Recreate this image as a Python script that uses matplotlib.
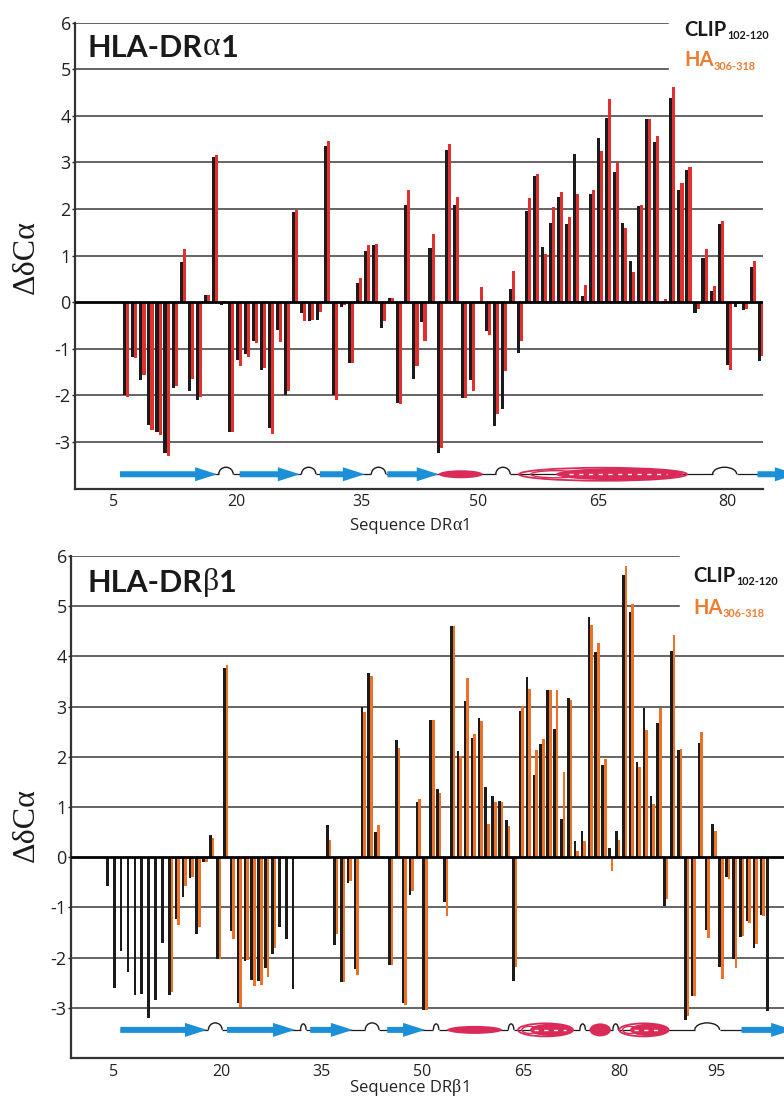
import numpy as np
import matplotlib
matplotlib.use("Agg")
import matplotlib.pyplot as plt
from matplotlib.patches import FancyArrow, Ellipse, Arc

plt.rcParams['axes.unicode_minus'] = False
nan = np.nan

# ---------------- data ----------------
alpha_residues = list(range(6, 86))
alpha_clip = [-1.99, -1.17, -1.67, -2.64, -2.79, -3.24, -1.84, 0.86, -1.91, -2.09,
              0.15, 3.11, -0.05, -2.79, -1.23, -1.10, -0.84, -1.46, -2.69, -0.59,
              -1.98, 1.94, -0.24, -0.41, -0.39, 3.36, -1.99, -0.10, -1.30, 0.41,
              1.11, 1.24, -0.55, 0.09, -2.16, 2.09, -1.64, -0.43, 1.16, -3.23,
              3.26, 2.09, -2.06, -1.66, 0.00, -0.61, -2.66, -2.30, 0.29, -1.09,
              1.96, 2.70, 1.19, 1.70, 2.27, 1.68, 3.19, 0.14, 2.32, 3.52,
              3.96, 2.79, 1.70, 0.88, 2.06, 3.94, 3.45, 0.00, 4.38, 2.41,
              2.83, -0.23, 0.96, 0.24, 1.68, -1.35, -0.10, -0.17, 0.75, -1.26]
alpha_ha = [-2.03, -1.20, -1.55, -2.74, -2.85, -3.29, -1.80, 1.15, -1.64, -2.03,
            0.16, 3.16, 0.03, -2.79, -1.37, -1.17, -0.87, -1.41, -2.82, -0.86,
            -1.91, 1.99, -0.41, -0.39, -0.21, 3.47, -2.09, -0.05, -1.30, 0.52,
            1.24, 1.26, -0.41, 0.09, -2.18, 2.41, -1.37, -0.84, 1.47, -3.12,
            3.40, 2.27, -2.05, -1.91, 0.32, -0.70, -2.39, -1.48, 0.68, -0.84,
            2.23, 2.76, 1.04, 2.04, 2.36, 1.83, 2.33, 0.37, 2.41, 3.25,
            4.37, 3.01, 1.60, 0.66, 2.09, 3.94, 3.56, 0.08, 4.63, 2.55,
            2.90, -0.14, 1.15, 0.36, 1.74, -1.46, -0.03, -0.14, 0.88, -1.16]
alpha_tick_labels = ['5', '20', '35', '50', '65', '80']
alpha_tick_pos = [4.4, 19.7, 35.3, 49.8, 64.8, 80.8]

beta_residues = list(range(4, 101))
beta_clip = [-0.58, -2.61, -1.86, -2.29, -2.74, -2.72, -3.21, -2.85, -1.70, -2.75,
             -1.24, -0.80, -0.41, -1.52, -0.09, 0.45, -2.02, 3.76, -1.47, -2.91,
             -2.06, -2.45, -2.47, -2.20, -1.93, -1.40, -1.62, -2.62, nan, nan,
             nan, nan, 0.65, -1.74, -2.48, -0.51, -2.23, 2.99, 3.67, 0.50,
             nan, -2.14, 2.34, -2.91, -0.76, 1.10, -3.05, 2.74, 1.36, -0.90,
             4.61, 2.11, 3.12, 2.38, 2.77, 1.40, 1.21, 1.12, 0.74, -2.46,
             2.92, 3.58, 1.63, 2.26, 3.33, 2.55, 0.76, 3.18, 0.33, 0.53,
             4.79, 4.08, 1.84, 0.19, 0.52, 5.62, 4.89, 1.90, 2.98, 1.22,
             2.67, -0.98, 4.10, 2.13, -3.25, -2.77, 2.28, -1.45, 0.66, -2.18,
             -0.39, -2.02, -1.58, -1.28, -1.81, -1.16, -3.06]
beta_ha = [nan, nan, nan, nan, nan, nan, nan, nan, nan, -2.68,
           -1.35, -0.58, -0.39, -1.40, -0.09, 0.39, -2.02, 3.83, -1.63, -2.98,
           -2.04, -2.57, -2.54, -2.38, -1.81, nan, nan, nan, nan, nan,
           nan, nan, 0.35, -1.52, -2.48, -0.48, -2.35, 2.89, 3.60, 0.65,
           nan, -2.14, 2.18, -2.94, -0.67, 1.16, -3.04, 2.73, 1.28, -1.18,
           4.61, 2.02, 3.57, 2.46, 2.72, 0.66, 1.09, 1.09, 0.62, -2.18,
           3.01, 3.35, 2.13, 2.36, 3.33, 3.33, 1.69, 3.14, 0.12, 0.32,
           4.62, 4.26, 1.95, -0.28, 0.35, 5.80, 5.04, 1.79, 2.54, 1.06,
           2.98, -0.84, 4.43, 2.16, -3.16, -2.77, 2.50, -1.61, 0.52, -2.43,
           -0.43, -2.20, -1.56, -1.31, -1.72, -1.17, nan]
beta_tick_labels = ['5', '20', '35', '50', '65', '80', '95']
beta_tick_pos = [4.7, 20.4, 35.0, 49.6, 64.2, 78.3, 92.4]

# secondary structure elements: (kind, start, end) in residue units
alpha_ss = [('strand', 5.2, 17.3), ('turn', 17.5, 19.3), ('strand', 20.1, 27.6),
            ('turn', 27.8, 29.6), ('strand', 30.1, 35.7), ('turn', 36.5, 38.3),
            ('strand', 38.5, 44.9), ('helix', 44.9, 50.4), ('turn', 52.0, 53.8),
            ('coil', 54.9, 75.8), ('turn', 79.0, 82.0), ('strand', 84.6, 89.5)]
beta_ss = [('strand', 5.7, 18.3), ('turn', 18.5, 20.5), ('strand', 21.2, 31.1),
           ('kink', 31.9, 32.7), ('strand', 33.3, 39.5), ('turn', 41.3, 43.3),
           ('strand', 44.5, 50.0), ('kink', 51.2, 52.0), ('helix', 53.2, 61.2),
           ('kink', 62.1, 62.9), ('coil', 63.5, 71.5), ('kink', 72.5, 73.3),
           ('ball', 73.9, 77.0), ('kink', 77.3, 78.1), ('coil', 78.2, 85.4),
           ('turn', 89.2, 92.8), ('strand', 96.0, 103.5)]

BLACK = '#1b1b1b'
RED = '#e2302e'
ORANGE = '#ee7128'
LEG_ORANGE = '#ed7d31'
BLUE = '#1b8fd8'
CRIMSON = '#d92a58'
GRID = '#3a3a3a'

W, H = 784, 1097
fig = plt.figure(figsize=(W / 100, H / 100), dpi=100)


def px_axes(left, right, top, bottom):
    return fig.add_axes([left / W, 1 - bottom / H, (right - left) / W, (bottom - top) / H])


def draw_ss(ax, elements, y, ux, uy):
    # ux: pixels per residue, uy: pixels per y-unit
    start = min(e[1] for e in elements)
    end = max(e[2] for e in elements)
    gaps = sorted([(s, e) for k, s, e in elements if k in ('turn', 'kink')])
    segs = []
    cur = start
    for s, e in gaps:
        segs.append((cur, s))
        cur = e
    segs.append((cur, end))
    for s, e in segs:
        ax.plot([s, e], [y, y], color=BLACK, lw=0.9, clip_on=False, zorder=4,
                solid_capstyle='butt')
    for kind, s, e in elements:
        L = e - s
        c = (s + e) / 2
        if kind == 'strand':
            ax.add_patch(FancyArrow(s, y, L, 0, width=6 / uy, head_width=14 / uy,
                                    head_length=22 / ux, length_includes_head=True,
                                    color=BLUE, lw=0, clip_on=False, zorder=6))
        elif kind == 'helix':
            ax.add_patch(Ellipse((c, y), L, 8 / uy, color=CRIMSON, lw=0,
                                 clip_on=False, zorder=6))
        elif kind == 'ball':
            ax.add_patch(Ellipse((c, y), L, 13 / uy, color=CRIMSON, lw=0,
                                 clip_on=False, zorder=6))
        elif kind == 'coil':
            h = 13 / uy
            ax.add_patch(Ellipse((c, y), L, h, fill=False, ec=CRIMSON, lw=1.3,
                                 clip_on=False, zorder=6))
            ax.add_patch(Ellipse((s + 0.22 * L, y), 0.3 * L, 0.55 * h, fill=False,
                                 ec=CRIMSON, lw=1.0, clip_on=False, zorder=6))
            ax.add_patch(Ellipse((s + 0.6 * L, y), 0.76 * L, 0.95 * h, color=CRIMSON,
                                 lw=0, clip_on=False, zorder=6))
            ax.plot([s + 0.3 * L, e - 0.12 * L], [y, y], color='white', lw=1.0,
                    ls=(0, (3, 4)), clip_on=False, zorder=7)
        elif kind == 'turn':
            ax.add_patch(Arc((c, y), L, 14 / uy, theta1=0, theta2=180, color=BLACK,
                             lw=1.0, clip_on=False, zorder=5))
        elif kind == 'kink':
            ax.add_patch(Arc((c, y), L, 12 / uy, theta1=0, theta2=180, color=BLACK,
                             lw=1.0, clip_on=False, zorder=5))


def chain_text(ax, x_px, base_px, parts):
    first = True
    prev = None
    for txt, kw in parts:
        if first:
            prev = fig.text(x_px / W, 1 - base_px / H, txt, ha='left', va='baseline', **kw)
            first = False
        else:
            prev = ax.annotate(txt, xy=(1, 0), xycoords=prev, ha='left', va='bottom',
                               annotation_clip=False, **kw)
    return prev


def panel(ax, residues, clip, ha, ha_color, xlim, tick_pos, tick_labels, ss, ss_y,
          ux, uy, grid_end_frac):
    r = np.array(residues, dtype=float)
    ax.bar(r - 0.19, clip, width=0.38, color=BLACK, zorder=3, lw=0)
    ax.bar(r + 0.19, ha, width=0.38, color=ha_color, zorder=3, lw=0)
    ax.set_xlim(*xlim)
    ax.set_ylim(-4, 6)
    for v in range(-3, 7):
        if v == 0:
            continue
        xmax = grid_end_frac if v >= 5 else 1.0
        ax.axhline(v, xmin=0, xmax=xmax, color=GRID, lw=1.1, zorder=1)
    ax.axhline(0, color='black', lw=2.0, zorder=4)
    for s in ('top', 'right'):
        ax.spines[s].set_visible(False)
    ax.spines['left'].set_linewidth(1.6)
    ax.spines['left'].set_color('#333333')
    ax.spines['bottom'].set_linewidth(1.6)
    ax.spines['bottom'].set_color('#333333')
    ax.set_yticks(range(-3, 7))
    ax.set_yticklabels([str(v) for v in range(-3, 7)], fontsize=13, family='Open Sans')
    ax.tick_params(axis='y', length=2, width=1, pad=1, colors='#222222')
    ax.set_xticks(tick_pos)
    ax.set_xticklabels(tick_labels, fontsize=11.5, family='Open Sans', color='#222222')
    ax.tick_params(axis='x', length=0, pad=4)
    draw_ss(ax, ss, ss_y, ux, uy)


# ---------------- top panel: DR alpha1 ----------------
ax1 = px_axes(75, 763, 22.7, 488.7)
panel(ax1, alpha_residues, alpha_clip, alpha_ha, RED, (-0.40, 85.28),
      alpha_tick_pos, alpha_tick_labels, alpha_ss, -3.69, 8.03, 46.6, 0.862)

# ---------------- bottom panel: DR beta1 ----------------
ax2 = px_axes(71, 784, 556, 1058)
panel(ax2, beta_residues, beta_clip, beta_ha, ORANGE, (-1.47, 102.17),
      beta_tick_pos, beta_tick_labels, beta_ss, -3.44, 6.88, 50.2, 0.853)

bold = dict(family='Lato', weight='bold', color='#1a1a1a')
greek = dict(family='Liberation Serif', color='#1a1a1a')

# titles
chain_text(ax1, 88, 57, [('HLA-DR', dict(fontsize=22, **bold)),
                         ('\u03b1', dict(fontsize=24, **greek)),
                         ('1', dict(fontsize=22, **bold))])
chain_text(ax2, 88, 592, [('HLA-DR', dict(fontsize=22, **bold)),
                          ('\u03b2', dict(fontsize=23, **greek)),
                          ('1', dict(fontsize=22, **bold))])

# legends
for ax, x0, b1, b2 in ((ax1, 684, 36, 66.5), (ax2, 693, 582, 614)):
    t = fig.text(x0 / W, 1 - b1 / H, 'CLIP', ha='left', va='baseline',
                 fontsize=14.5, family='Lato', weight='bold', color='#1a1a1a')
    ax.annotate('102-120', xy=(1.02, 0.22), xycoords=t, ha='left', va='center',
                fontsize=7.8, family='Lato', weight='bold', color='#1a1a1a',
                annotation_clip=False)
    t = fig.text(x0 / W, 1 - b2 / H, 'HA', ha='left', va='baseline',
                 fontsize=14.5, family='Lato', weight='bold', color=LEG_ORANGE)
    ax.annotate('306-318', xy=(1.02, 0.22), xycoords=t, ha='left', va='center',
                fontsize=7.8, family='Lato', weight='bold', color=LEG_ORANGE,
                annotation_clip=False)

# y labels
fig.text(26 / W, 1 - 257 / H, '\u0394\u03b4C\u03b1', rotation=90, ha='center', va='center',
         fontsize=23, family='Liberation Serif', color='#1a1a1a')
fig.text(26 / W, 1 - 825 / H, '\u0394\u03b4C\u03b1', rotation=90, ha='center', va='center',
         fontsize=23, family='Liberation Serif', color='#1a1a1a')

# x labels
seq_kw = dict(fontsize=12, family='Open Sans', color='#222222')
chain_text(ax1, 350, 530, [('Sequence DR', seq_kw),
                           ('\u03b1', dict(fontsize=13, family='Liberation Serif', color='#222222')),
                           ('1', seq_kw)])
chain_text(ax2, 350, 1092, [('Sequence DR', seq_kw),
                            ('\u03b2', dict(fontsize=13, family='Liberation Serif', color='#222222')),
                            ('1', seq_kw)])

fig.savefig('out.png', dpi=100)
